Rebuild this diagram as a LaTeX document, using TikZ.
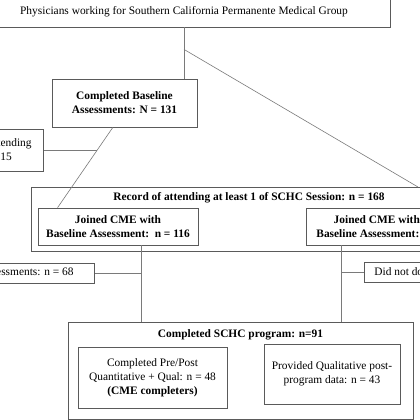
\documentclass[tikz,border=0pt]{standalone}
\usepackage{fontspec}
\setmainfont{Liberation Serif}
\usetikzlibrary{calc}
\definecolor{boxc}{HTML}{5A5A5A}
\definecolor{linec}{HTML}{7A7A7A}
\begin{document}
\begin{tikzpicture}[x=1pt,y=-1pt,
  box/.style={draw=boxc, line width=0.8pt, inner sep=0pt, align=center, font=\fontsize{11.4}{14}\selectfont},
  bbox/.style={box, font=\fontsize{11.4}{14}\selectfont\bfseries},
  ttl/.style={inner sep=0pt, font=\fontsize{11.4}{14}\selectfont\bfseries},
  conn/.style={draw=linec, line width=0.6pt}]
\useasboundingbox (0,0) rectangle (420,420);
\fill[white] (0,0) rectangle (420,420);
\clip (0,0) rectangle (420,420);

% boxes
\node[box, minimum width=412pt, minimum height=30pt] (top) at (184,12) {Physicians working for Southern California Permanente Medical Group};
\node[bbox, minimum width=145pt, minimum height=48pt] (base) at (124.5,103) {Completed Baseline\\Assessments: N = 131};
\node[box, anchor=east, inner xsep=12pt, minimum height=42pt] (att) at (44,150) {Baseline, not attending\\SCHC: n = 15};
\node[box, minimum width=436pt, minimum height=64pt] (rec) at (249,219) {};
\node[ttl] (rectitle) at (249,198) {Record of attending at least 1 of SCHC Session: n = 168};
\node[bbox, minimum width=160pt, minimum height=37pt] (joinw) at (118,226.5) {Joined CME with\\Baseline Assessment:\ \ n = 116};
\node[bbox, anchor=west, inner xsep=10pt, minimum height=37pt] (joinwo) at (306,226.5) {Joined CME without\\Baseline Assessment: n = 52};
\node[box, anchor=east, inner xsep=21pt, minimum height=20pt] (pa) at (95,273) {Did not complete post-assessments: n = 68};
\node[box, anchor=west, inner xsep=10pt, minimum height=20pt] (dnd) at (364,272.5) {Did not do post-assessments: n = 9};
\node[box, minimum width=345pt, minimum height=97pt] (comp) at (240.5,370.5) {};
\node[ttl] (comptitle) at (240.5,335) {Completed SCHC program: n=91};
\node[box, minimum width=149pt, minimum height=61pt] (cme) at (152.5,377.5) {Completed Pre/Post\\Quantitative + Qual: n = 48\\\textbf{(CME completers)}};
\node[box, minimum width=136pt, minimum height=60pt] (qual) at (332,374) {Provided Qualitative post-\\program data: n = 43};

% connectors
\coordinate (d0) at ($(top.south)+(0,22)$);
\coordinate (d1) at (418,187);
\draw[conn] (top.south) -- (top.south |- base.north);
\draw[conn] (d0) -- (d1);
\coordinate (b1) at ($(base.south west)!0.42!(base.south east)$);
\coordinate (b2) at ($(joinw.north west)+(20,0)$);
\draw[conn] (b1) -- (b2);
\coordinate (m) at ($(b1)!0.284!(b2)$);
\draw[conn] (att.east) -- (att.east -| m);
\coordinate (j1) at ($(joinw.south west)+(104,0)$);
\draw[conn] (j1) -- (j1 |- comp.north);
\draw[conn] (pa.east) -- (pa.east -| j1);
\coordinate (j2) at ($(joinwo.south west)+(35,0)$);
\draw[conn] (j2) -- (j2 |- comp.north);
\draw[conn] (j2 |- dnd.west) -- (dnd.west);
\end{tikzpicture}
\end{document}
